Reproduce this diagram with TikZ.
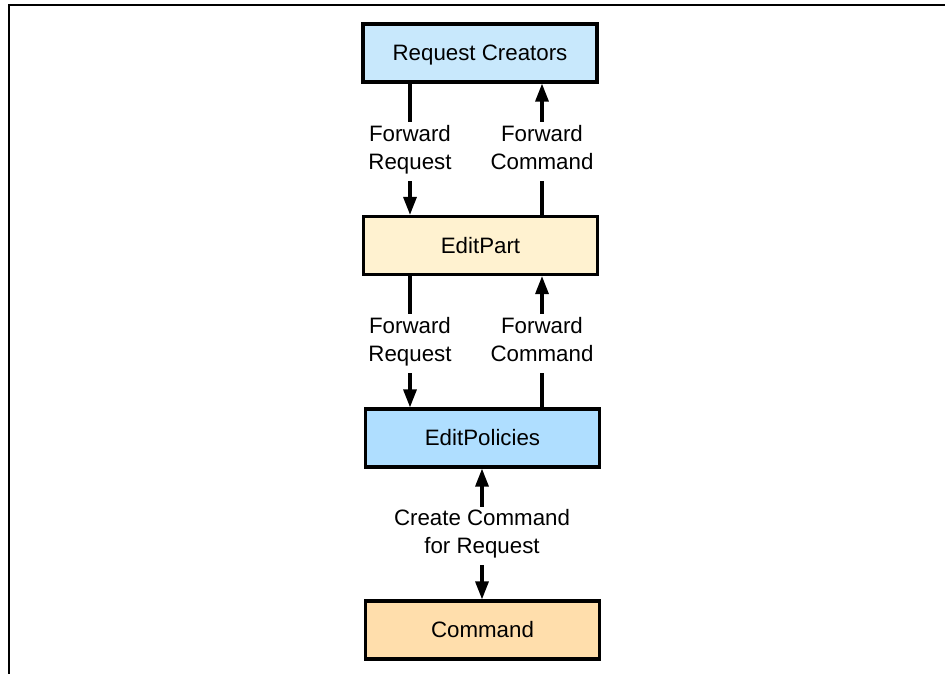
\documentclass[tikz,border=0pt]{standalone}
\usepackage{fontspec}
\setmainfont{Liberation Sans}
\usetikzlibrary{arrows.meta}
\definecolor{rcblue}{RGB}{200,232,252}
\definecolor{polblue}{RGB}{175,222,255}
\definecolor{partcream}{RGB}{255,242,208}
\definecolor{cmdorange}{RGB}{255,222,172}
\begin{document}
\begin{tikzpicture}[x=1pt,y=-1pt,
  box/.style={draw=black,line width=3.2pt,minimum width=234pt,minimum height=58pt,inner sep=0pt,text height=15.8pt,text depth=0pt,font=\fontsize{22.3}{27}\selectfont},
  lbl/.style={fill=white,align=center,inner sep=3pt,yshift=-2pt,font=\fontsize{22.3}{28}\selectfont,execute at begin node=\strut,execute at end node=\strut},
  tip/.style={},
  arr/.style={line width=3.2pt,-{Triangle[length=18pt,width=13pt]}},
  darr/.style={line width=3.2pt,{Triangle[length=18pt,width=13pt]}-{Triangle[length=18pt,width=13pt]}}]
\useasboundingbox (0,0) rectangle (945,674);
\draw[line width=2.6pt] (9,674) -- (9,5) -- (945,5);
\node[box,fill=rcblue] (rc) at (480,53) {Request Creators};
\node[box,fill=partcream] (ep) at (480.5,245.5) {EditPart};
\node[box,fill=polblue] (pol) at (482.5,438) {EditPolicies};
\node[box,fill=cmdorange] (cmd) at (482.5,630) {Command};
\draw[arr] ([xshift=-70pt]rc.south) -- node[lbl]{Forward\\Request} ([xshift=-70.5pt]ep.north);
\draw[arr] ([xshift=61.5pt]ep.north) -- node[lbl]{Forward\\Command} ([xshift=62pt]rc.south);
\draw[arr] ([xshift=-70.5pt]ep.south) -- node[lbl]{Forward\\Request} ([xshift=-72.5pt]pol.north);
\draw[arr] ([xshift=59.5pt]pol.north) -- node[lbl]{Forward\\Command} ([xshift=61.5pt]ep.south);
\draw[darr] ([xshift=-0.5pt]pol.south) -- node[lbl]{Create Command\\for Request} ([xshift=-0.5pt]cmd.north);
\end{tikzpicture}
\end{document}
